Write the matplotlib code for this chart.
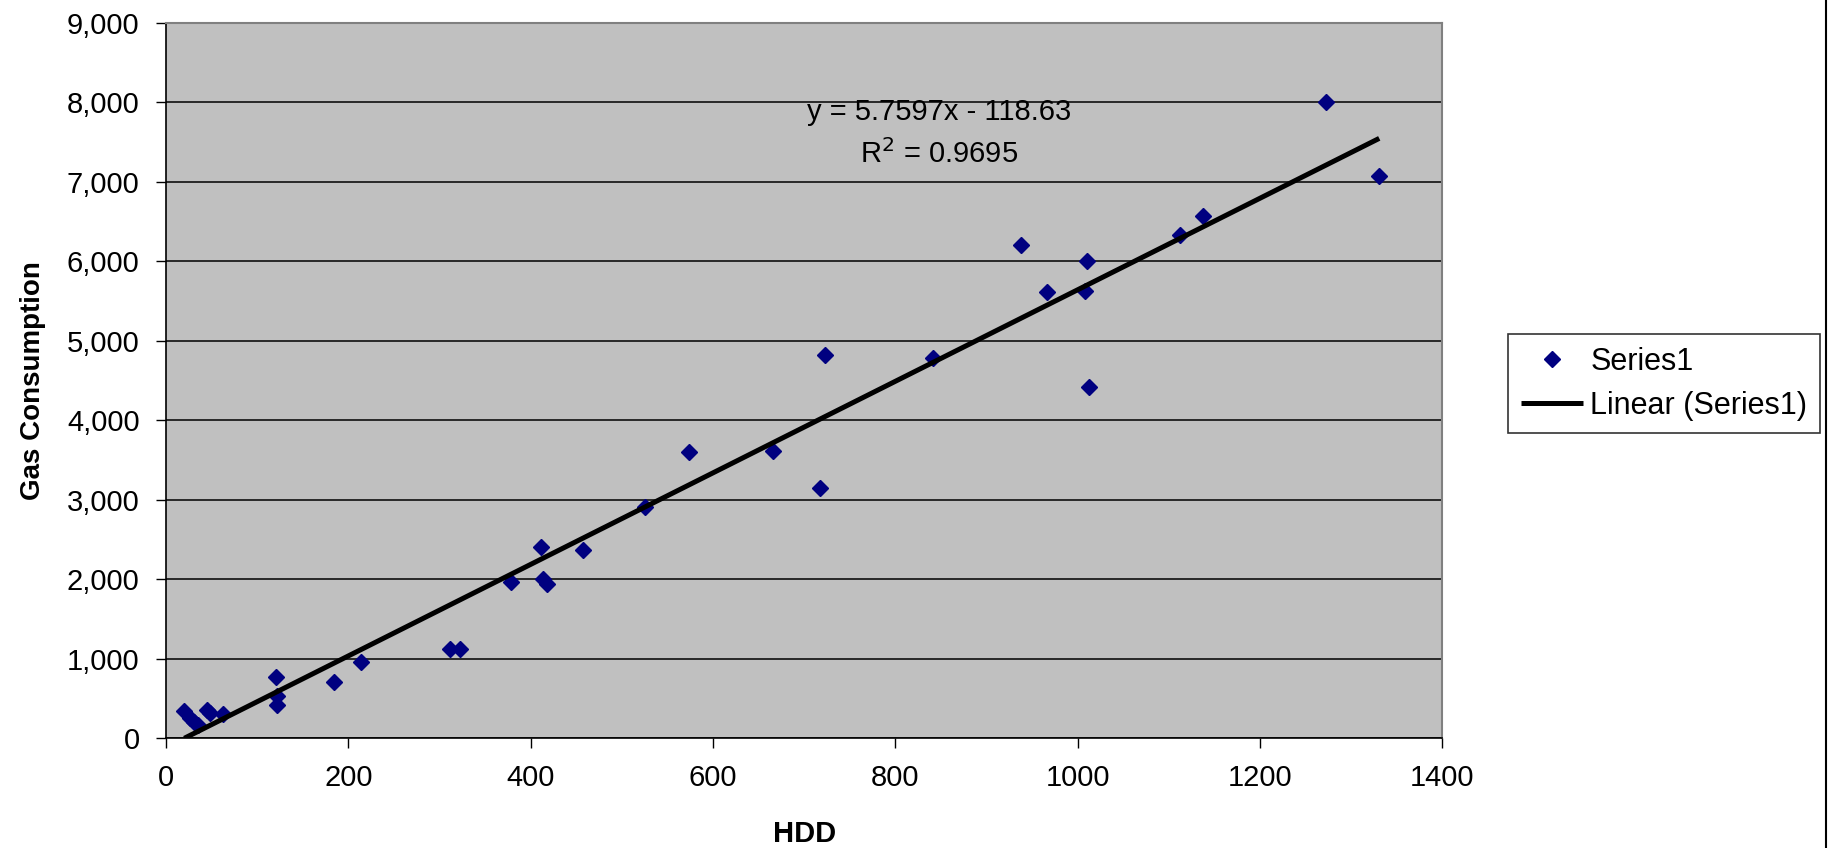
import numpy as np
import matplotlib
matplotlib.use("Agg")
import matplotlib.pyplot as plt
from matplotlib.ticker import FuncFormatter, MultipleLocator
from matplotlib.lines import Line2D

plt.rcParams["font.family"] = ["Liberation Sans", "DejaVu Sans"]

# values
hdd = [20, 26, 31, 35, 45, 48, 63, 121, 122, 122, 184, 214, 312, 322, 378,
       411, 414, 418, 457, 525, 574, 666, 717, 723, 841, 938, 967, 1008,
       1010, 1013, 1112, 1138, 1273, 1331]
gas = [340, 250, 200, 160, 350, 310, 300, 764, 529, 411, 701, 957, 1120,
       1120, 1960, 2400, 2003, 1944, 2370, 2902, 3594, 3609, 3152, 4817,
       4787, 6200, 5612, 5627, 6010, 4419, 6334, 6570, 8010, 7070]
slope = 5.7597
intercept = -118.63
r_squared = 0.9695


def main():
    fig = plt.figure(figsize=(18.35, 8.48), dpi=100)
    ax = fig.add_axes([0.0905, 0.1297, 0.6954, 0.8432])
    ax.set_facecolor("#C0C0C0")

    x = np.array(hdd, dtype=float)
    xs = np.array([x.min(), x.max()])
    ax.plot(x, gas, ls="none", marker="D", ms=8, color="#000080",
            mec="#000080", label="Series1", zorder=3)
    ax.plot(xs, slope * xs + intercept, color="black", lw=3.6,
            label="Linear (Series1)", zorder=4, solid_capstyle="butt")

    ax.set_xlim(0, 1400)
    ax.set_ylim(0, 9000)
    ax.xaxis.set_major_locator(MultipleLocator(200))
    ax.yaxis.set_major_locator(MultipleLocator(1000))
    ax.yaxis.set_major_formatter(FuncFormatter(lambda v, p: f"{int(v):,}"))
    ax.grid(axis="y", color="black", lw=1.1)
    ax.set_axisbelow(True)
    ax.tick_params(labelsize=21, length=7, width=1, pad=12, colors="black")

    for side in ("left", "bottom"):
        ax.spines[side].set_color("black")
        ax.spines[side].set_linewidth(1.2)
    for side in ("top", "right"):
        ax.spines[side].set_color("#808080")
        ax.spines[side].set_linewidth(1.5)

    ax.set_xlabel("HDD", fontsize=21, fontweight="bold")
    ax.xaxis.set_label_coords(0.5, -0.115)
    ax.set_ylabel("Gas Consumption", fontsize=20, fontweight="bold")
    ax.yaxis.set_label_coords(-0.094, 0.5)

    sign = "-" if intercept < 0 else "+"
    ax.text(0.606, 0.8755, f"y = {slope}x {sign} {abs(intercept)}",
            transform=ax.transAxes, ha="center", va="center", fontsize=21)
    ax.text(0.606, 0.8168, f"R$^2$ = {r_squared}",
            transform=ax.transAxes, ha="center", va="center", fontsize=21)

    leg = fig.legend(loc="upper left", bbox_to_anchor=(0.8218, 0.6061),
                     bbox_transform=fig.transFigure, fontsize=22,
                     frameon=True, fancybox=False, borderaxespad=0,
                     borderpad=0.42, handlelength=2.05, handletextpad=0.22,
                     labelspacing=0.45)
    leg.get_frame().set_edgecolor("black")
    leg.get_frame().set_linewidth(1.2)

    fig.add_artist(Line2D([0.9953, 0.9953], [0, 1], transform=fig.transFigure,
                          color="black", lw=1.5))

    fig.savefig("out.png", dpi=100, facecolor="white")
    plt.close(fig)


if __name__ == "__main__":
    main()
